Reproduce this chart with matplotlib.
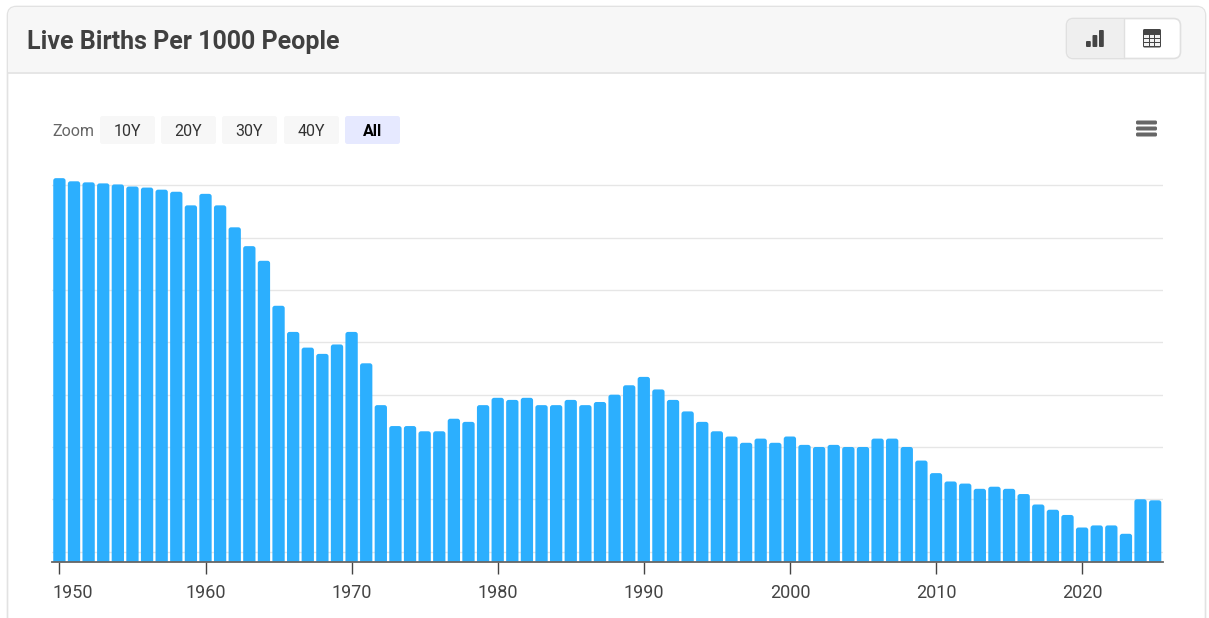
import numpy as np
from matplotlib import pyplot as plt
from matplotlib.patches import FancyBboxPatch, Rectangle
from matplotlib.transforms import Affine2D

plt.rcParams['font.family'] = ['Roboto', 'DejaVu Sans']

years = list(range(1950, 2026))
# y scale is not labelled in the source, values read off in grid units (5 per gridline)
births = [45.7, 45.4, 45.3, 45.2, 45.1, 44.9, 44.8, 44.6, 44.4, 43.1,
          44.2, 43.1, 41.0, 39.2, 37.8, 33.5, 31.0, 29.5, 28.9, 29.8,
          31.0, 28.0, 24.0, 22.0, 22.0, 21.5, 21.5, 22.7, 22.4, 24.0,
          24.7, 24.5, 24.7, 24.0, 24.0, 24.5, 24.0, 24.3, 25.0, 25.9,
          26.7, 25.5, 24.5, 23.4, 22.4, 21.5, 21.0, 20.4, 20.8, 20.4,
          21.0, 20.2, 20.0, 20.2, 20.0, 20.0, 20.8, 20.8, 20.0, 18.7,
          17.5, 16.7, 16.5, 16.0, 16.2, 16.0, 15.5, 14.5, 14.0, 13.5,
          12.3, 12.5, 12.5, 11.7, 15.0, 14.9]
grid_values = [10, 15, 20, 25, 30, 35, 40, 45]
tick_years = [1950, 1960, 1970, 1980, 1990, 2000, 2010, 2020]
zoom_labels = ['10Y', '20Y', '30Y', '40Y', 'All']
zoom_lefts = [100, 161, 222, 284, 345]

W, H = 1209, 618
fig = plt.figure(figsize=(W / 100, H / 100), dpi=100, facecolor='white')

# page furniture in pixel coordinates
bg = fig.add_axes([0, 0, 1, 1], zorder=0)
bg.set_xlim(0, W)
bg.set_ylim(H, 0)
bg.axis('off')


def rbox(x, y, w, h, r, **kw):
    p = FancyBboxPatch((x + r, y + r), w - 2 * r, h - 2 * r,
                       boxstyle='round,pad=%f,rounding_size=%f' % (r, r), **kw)
    bg.add_patch(p)
    return p


# card + header
rbox(7.5, 6.5, 1198, 700, 9, fc='white', ec='#e2e2e2', lw=1.2)
head = rbox(8, 7, 1197, 100, 8, fc='#f7f7f7', ec='none')
head.set_clip_path(Rectangle((0, 0), W, 72, transform=bg.transData))
bg.plot([8, 1205], [72.5, 72.5], color='#e2e2e2', lw=1.2)
bg.text(27, 41.5, 'Live Births Per 1000 People', fontsize=18, fontweight='bold',
        color='#404040', va='center', ha='left')

# toggle buttons top right
rbox(1066.5, 18.5, 114, 40, 7, fc='white', ec='#e0e0e0', lw=1.2)
left = rbox(1067, 19, 113, 39, 6.5, fc='#efefef', ec='none')
left.set_clip_path(Rectangle((1060, 10), 63.5, 60, transform=bg.transData))
bg.plot([1123.5, 1123.5], [19, 58], color='#e0e0e0', lw=1)
for x0, top in [(1086, 41), (1092.5, 35), (1099, 30)]:
    rbox(x0, top, 4.8, 47 - top, 1, fc='#454545', ec='none')
# table icon
rbox(1143, 29, 18, 18.5, 1.5, fc='#454545', ec='none')
for cx in [1144.2, 1149.8, 1155.4]:
    for cy in [34.5, 39, 43]:
        bg.add_patch(Rectangle((cx, cy), 4.4, 3.3, fc='#f2f2f2', ec='none'))
# hamburger
for y0 in [121, 127, 133]:
    rbox(1136, y0 - 0.5, 21, 4, 1.5, fc='#666666', ec='none')

# zoom row
bg.text(52.5, 131, 'Zoom', fontsize=11.5, color='#666666', va='center', ha='left')
for lab, x0 in zip(zoom_labels, zoom_lefts):
    active = lab == 'All'
    rbox(x0, 116, 55, 28, 2.5, fc='#e6e9ff' if active else '#f7f7f7', ec='none')
    bg.text(x0 + 27.5, 131, lab, fontsize=11.5, color='black' if active else '#333333',
            fontweight='bold' if active else 'normal', va='center', ha='center')

# the chart
ax = fig.add_axes([52 / W, 1 - 561.5 / H, (1163 - 52) / W, (561.5 - 170) / H], zorder=1)
ax.patch.set_alpha(0)
px_year = 14.61
px_val = 10.46
ax.set_xlim(1950 - (59.4 - 52) / px_year, 1950 + (1163 - 59.4) / px_year)
ax.set_ylim(9.05, 46.48)

ax.set_yticks(grid_values)
ax.yaxis.grid(True, color='#e6e6e6', lw=1)
ax.set_axisbelow(True)
ax.tick_params(axis='y', length=0, labelleft=False)

bars = ax.bar(years, births, width=12.3 / px_year, bottom=0, color='#2caffe')
radius = 2.5 / px_year
for b, v in zip(bars, births):
    x0, w = b.get_x(), b.get_width()
    b.remove()
    ax.add_patch(FancyBboxPatch((x0 + radius, 0), w - 2 * radius, v - radius * px_year / px_val,
                                boxstyle='round,pad=%f,rounding_size=%f' % (radius, radius),
                                mutation_aspect=px_year / px_val, fc='#2caffe', ec='none'))

for s in ['top', 'left', 'right']:
    ax.spines[s].set_visible(False)
ax.spines['bottom'].set_color('#666666')
ax.spines['bottom'].set_linewidth(1.3)
ax.set_xticks(tick_years)
ax.set_xticklabels([str(y) for y in tick_years], fontsize=13, color='#444444')
ax.tick_params(axis='x', length=8.5, width=1, color='#444444', pad=8)
first = ax.get_xticklabels()[0]
first.set_horizontalalignment('left')
first.set_transform(first.get_transform() + Affine2D().translate(-6.6, 0))

fig.savefig('out.png', dpi=100)
